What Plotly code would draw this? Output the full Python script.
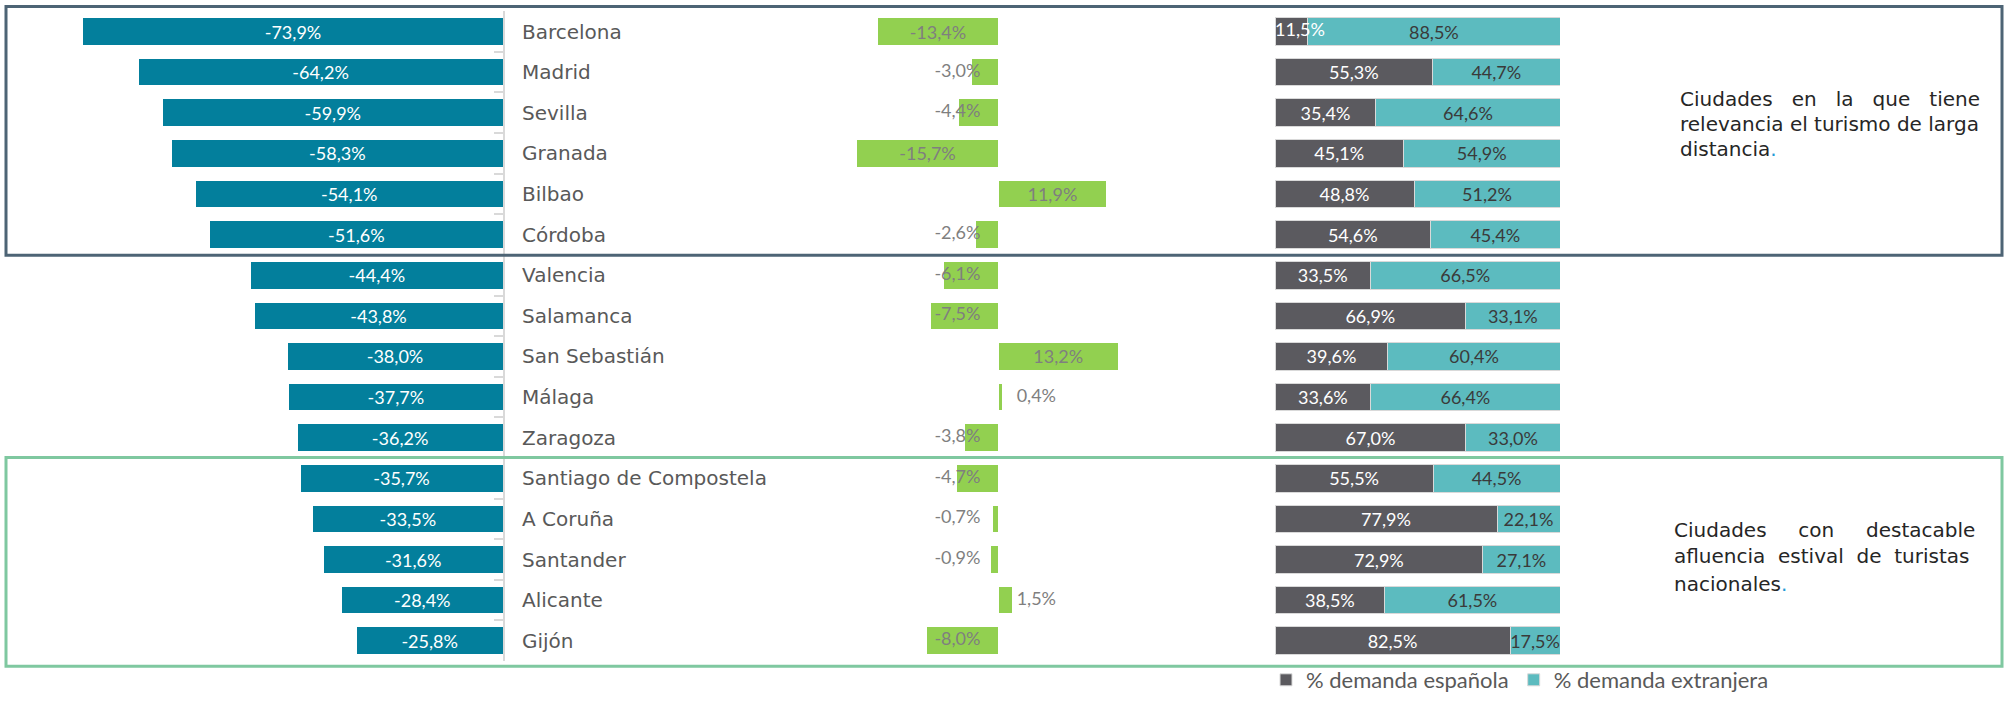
"""Caida de pernoctaciones por ciudad y peso de la demanda nacional / extranjera."""

import plotly.graph_objects as go

W, H = 2009, 701

cities = ["Barcelona", "Madrid", "Sevilla", "Granada", "Bilbao", "Córdoba",
          "Valencia", "Salamanca", "San Sebastián", "Málaga", "Zaragoza",
          "Santiago de Compostela", "A Coruña", "Santander", "Alicante", "Gijón"]
var_total = [-73.9, -64.2, -59.9, -58.3, -54.1, -51.6, -44.4, -43.8,
             -38.0, -37.7, -36.2, -35.7, -33.5, -31.6, -28.4, -25.8]
var_diff = [-13.4, -3.0, -4.4, -15.7, 11.9, -2.6, -6.1, -7.5,
            13.2, 0.4, -3.8, -4.7, -0.7, -0.9, 1.5, -8.0]
dem_esp = [11.5, 55.3, 35.4, 45.1, 48.8, 54.6, 33.5, 66.9,
           39.6, 33.6, 67.0, 55.5, 77.9, 72.9, 38.5, 82.5]
dem_ext = [88.5, 44.7, 64.6, 54.9, 51.2, 45.4, 66.5, 33.1,
           60.4, 66.4, 33.0, 44.5, 22.1, 27.1, 61.5, 17.5]

BLUE = '#037f9c'
GREEN = '#92d050'
DARK = '#5b5a5f'
TEAL = '#5cbbbf'
NUM_FONT = 'Lato, sans-serif'
CITY_FONT = 'DejaVu Sans, sans-serif'


def fmt(v):
    return '{:.1f}%'.format(v).replace('.', ',')


def px(x):
    return x / W


def py(y):
    return (H - y) / H


# etiquetas del grafico central: dentro de la barra si es grande, junto al eje si no
big = [abs(v) >= 10 for v in var_diff]
small_x = [(2.0 if v > 0 else -2.0) for v, b in zip(var_diff, big) if not b]
small_y = [c for c, b in zip(cities, big) if not b]
small_t = [fmt(v) for v, b in zip(var_diff, big) if not b]

# tramos de demanda espanola demasiado estrechos: etiqueta al inicio de la barra
narrow = [v < 15 for v in dem_esp]

num = dict(family=NUM_FONT, size=18)
line = dict(color='white', width=1)
fig = go.Figure()
fig.add_trace(go.Bar(y=cities, x=var_total, orientation='h', marker=dict(color=BLUE, line=line),
                     text=[fmt(v) for v in var_total], textposition='inside',
                     insidetextanchor='middle', constraintext='none', textangle=0,
                     textfont=dict(num, color='white'),
                     xaxis='x', yaxis='y', showlegend=False, hoverinfo='skip'))
fig.add_trace(go.Bar(y=cities, x=var_diff, orientation='h', marker=dict(color=GREEN, line=line),
                     text=[fmt(v) if b else '' for v, b in zip(var_diff, big)],
                     textposition='inside', insidetextanchor='middle', constraintext='none',
                     textangle=0, textfont=dict(num, color='#7f7f7f'),
                     xaxis='x2', yaxis='y', showlegend=False, hoverinfo='skip'))
fig.add_trace(go.Scatter(y=small_y, x=small_x, mode='text', text=small_t,
                         textposition=['middle right' if x > 0 else 'middle left' for x in small_x],
                         textfont=dict(num, color='#7f7f7f'),
                         xaxis='x2', yaxis='y', showlegend=False, hoverinfo='skip',
                         cliponaxis=False))
fig.add_trace(go.Bar(y=cities, x=dem_esp, orientation='h', name='% demanda española',
                     marker=dict(color=DARK, line=dict(color='#d9d9d9', width=1)),
                     text=['' if n else fmt(v) for v, n in zip(dem_esp, narrow)],
                     textposition='inside', insidetextanchor='middle', constraintext='none',
                     textangle=0, textfont=dict(num, color='white'),
                     xaxis='x3', yaxis='y', hoverinfo='skip'))
fig.add_trace(go.Bar(y=cities, x=dem_ext, orientation='h', name='% demanda extranjera',
                     marker=dict(color=TEAL, line=dict(color='#d9d9d9', width=1)),
                     text=[fmt(v) for v in dem_ext], textposition='inside',
                     insidetextanchor='middle', constraintext='none', textangle=0,
                     textfont=dict(num, color='#3a3a3a'), cliponaxis=False,
                     xaxis='x3', yaxis='y', hoverinfo='skip'))
fig.add_trace(go.Scatter(y=[c for c, n in zip(cities, narrow) if n],
                         x=[0 for n in narrow if n], mode='text',
                         text=[fmt(v) for v, n in zip(dem_esp, narrow) if n],
                         textposition='middle right', textfont=dict(num, color='white'),
                         xaxis='x3', yaxis='y', showlegend=False, hoverinfo='skip',
                         cliponaxis=False))

hidden = dict(showticklabels=False, showgrid=False, zeroline=False, showline=False, ticks='')

fig.update_layout(
    width=W, height=H,
    margin=dict(l=0, r=0, t=0, b=0),
    paper_bgcolor='white', plot_bgcolor='white',
    barmode='stack', bargap=0.32,
    font=dict(family=NUM_FONT, color='#595959'),
    xaxis=dict(domain=[0, px(503)], range=[-88.5, 0], anchor='y', **hidden),
    xaxis2=dict(domain=[px(700), px(1270)], range=[-33, 30], anchor='y', **hidden),
    xaxis3=dict(domain=[px(1275), px(1560)], range=[0, 100], anchor='y', **hidden),
    yaxis=dict(domain=[py(670.6), py(11.4)], type='category', range=[15.5, -0.5], anchor='x',
               side='right', showline=True, linecolor='#d9d9d9', linewidth=2, showgrid=False,
               ticks='inside', ticklen=9, tickwidth=2, tickcolor='#d9d9d9', tickson='boundaries',
               ticklabelstandoff=13,
               tickfont=dict(family=CITY_FONT, size=20, color='#595959')),
    legend=dict(orientation='h', x=px(1266), xanchor='left', y=py(690), yanchor='middle',
                font=dict(family=NUM_FONT, size=22, color='#595959'), itemwidth=30,
                traceorder='normal', bgcolor='rgba(0,0,0,0)'),
    shapes=[
        dict(type='rect', xref='paper', yref='paper', x0=px(6), x1=px(2002),
             y0=py(259), y1=py(6.5), line=dict(color='#4d6475', width=3), layer='above'),
        dict(type='rect', xref='paper', yref='paper', x0=px(6), x1=px(2002),
             y0=py(676), y1=py(464), line=dict(color='#7fc8a0', width=3), layer='above'),
    ],
)

sp = '&nbsp;'
dot = "<span style='color:#1f9ad6'>.</span>"
notes = [
    ((sp * 3).join(["Ciudades", "en", "la", "que", "tiene"]), 1678, 100),
    ("relevancia el turismo de larga", 1678, 125.5),
    ("distancia" + dot, 1678, 151),
    ((sp * 5).join(["Ciudades", "con", "destacable"]), 1672, 538),
    ((sp * 2).join(["afluencia", "estival", "de", "turistas"]), 1672, 564),
    ("nacionales" + dot, 1672, 592),
]
for txt, x, y in notes:
    fig.add_annotation(text=txt, xref='paper', yref='paper', x=px(x), y=py(y),
                       xanchor='left', yanchor='middle', showarrow=False, align='left',
                       font=dict(family=CITY_FONT, size=20, color='#262626'))

fig.write_html("out.html", config={'displayModeBar': False},
               post_script="document.body.style.margin='0';")
